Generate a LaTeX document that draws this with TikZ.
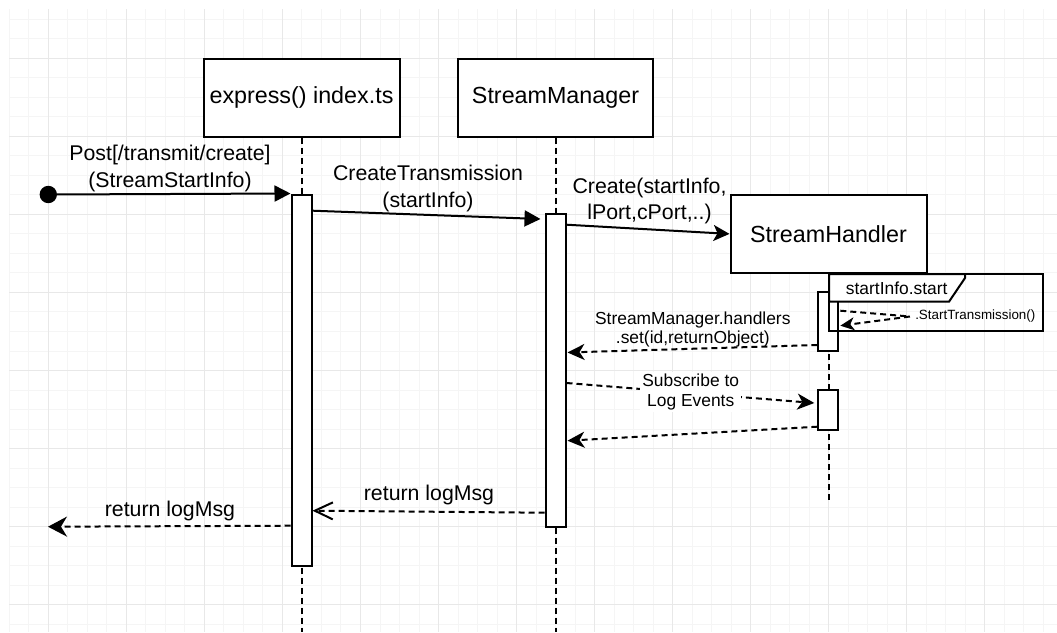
\documentclass[tikz,border=0pt]{standalone}
\usepackage{fontspec}
\setmainfont{Liberation Sans}
\usetikzlibrary{arrows.meta,calc}

\begin{document}
\begin{tikzpicture}[x=1pt,y=-1pt,
  gridminor/.style={draw=black!4, line width=0.9pt},
  gridmajor/.style={draw=black!9, line width=1.1pt},
  lifebox/.style={draw, line width=2pt, fill=white, minimum width=196pt,
    minimum height=78pt, inner sep=0pt, font=\fontsize{23.3}{28}\selectfont},
  activation/.style={draw, line width=2pt, fill=white, minimum width=20pt, inner sep=0pt},
  lifeline/.style={line width=2pt, dash pattern=on 6pt off 4pt},
  dashline/.style={line width=2pt, dash pattern=on 6pt off 4pt},
  callmsg/.style={line width=2pt, -{Triangle[length=16pt,width=16pt]}},
  createmsg/.style={line width=2pt, -{Stealth[length=16pt,width=16pt,inset=4pt]}},
  replymsg/.style={dashline, -{Stealth[length=17pt,width=16pt,inset=5pt]}},
  openreply/.style={dashline, -{Straight Barb[length=18pt,width=17pt,line width=2pt]}},
  bigreply/.style={dashline, -{Stealth[length=19pt,width=20pt,inset=6pt]}},
  selfcall/.style={dashline, -{Stealth[length=14pt,width=13pt,inset=4pt]}},
  biglabel/.style={align=center, inner sep=1pt, font=\fontsize{21.3}{26.7}\selectfont},
  midlabel/.style={align=center, inner sep=1pt, font=\fontsize{17.4}{19.8}\selectfont},
  smalllabel/.style={inner sep=1pt, font=\fontsize{13.4}{16}\selectfont}
]
\useasboundingbox (0,0) rectangle (1057,632);

% background grid
\begin{scope}
  \clip (9,9) rectangle (1057,632);
  \foreach \i in {0,...,53} \draw[gridminor] ({9.26+19.51*\i},9) -- ++(0,623);
  \foreach \i in {0,...,32} \draw[gridminor] (9,{19.28+19.51*\i}) -- ++(1048,0);
  \foreach \i in {0,...,13} \draw[gridmajor] ({48.3+78.05*\i},9) -- ++(0,623);
  \foreach \i in {0,...,7} \draw[gridmajor] (9,{58.3+78.05*\i}) -- ++(1048,0);
\end{scope}

% participants
\node[lifebox] (express) at (301.5,97.5) {express() index.ts};
\node[lifebox, minimum width=195pt] (manager) at (555.5,97.5) {StreamManager};
\node[lifebox] (handler) at (828.5,233.9) {StreamHandler};

% lifelines
\coordinate (expressEnd) at (301.5,632);
\coordinate (managerEnd) at (555.5,632);
\coordinate (handlerEnd) at (828.5,501.7);
\draw[lifeline] (express.south) -- (expressEnd);
\draw[lifeline] (manager.south) -- (managerEnd);
\draw[lifeline] (handler.south) -- (handlerEnd);

% activations
\node[activation, minimum height=371.5pt] (act1) at (301.5,380.25) {};
\node[activation, minimum height=312.7pt] (act2) at (555.5,370.35) {};
\node[activation, minimum height=59pt] (act3a) at (828.3,321.8) {};
\node[activation, minimum height=40pt] (act3b) at (828.3,410) {};

% combined fragment
\coordinate (frameNW) at (829,274);
\coordinate (frameSE) at (1043.3,331.3);
\draw[line width=2pt] (frameNW) rectangle (frameSE);
\draw[line width=2pt, fill=white] (frameNW) -- (965,274) -- (965,278) -- (949,301.7)
  -- (829,301.7) -- cycle;
\node[midlabel] (frameLabel) at (896.7,288.3) {startInfo.start};

% entry point
\node[circle, fill=black, minimum size=17.4pt, inner sep=0pt] (start) at (48.3,194.5) {};
\coordinate (exit) at (48,526.7);

% messages
\draw[callmsg] (start) -- (act1.north west);
\node[biglabel] (postLabel) at (170,168.7) {Post[/transmit/create]\\(StreamStartInfo)};

\draw[callmsg] ($(act1.north east)+(0,17.2)$) -- ($(act2.north west)+(-4,6)$);
\node[biglabel] (createTxLabel) at (428,188.5) {CreateTransmission\\(startInfo)};

\draw[createmsg] ($(act2.north east)+(0,11.7)$) -- (handler.west);
\node[biglabel] (createLabel) at (649.5,201) {Create(startInfo,\\lPort,cPort,..)};

\coordinate (selfTurn) at (910,316.5);
\draw[selfcall] ($(act3a.north east)+(1,19.4)$) -- (selfTurn) -- ($(act3a.north east)+(1,34.4)$);
\node[smalllabel] (startTxLabel) at (975.3,316) {.StartTransmission()};

\draw[replymsg] ($(act3a.south west)+(0,-7.3)$) -- ($(act2.north east)+(1,139.5)$);
\node[midlabel] (setLabel) at (692.8,329.5) {StreamManager.handlers\\.set(id,returnObject)};

\draw[replymsg] ($(act2.north east)+(0,170)$) -- ($(act3b.north west)+(-3,14)$);
\node[midlabel, fill=white, inner sep=2pt] (subscribeLabel) at (690.7,392) {Subscribe to\\Log Events};

\draw[replymsg] ($(act3b.south west)+(0,-4.3)$) -- ($(act2.north east)+(1,227.7)$);

\draw[openreply] ($(act2.south west)+(0,-15)$) -- ($(act1.north east)+(0,317.2)$);
\node[biglabel] (returnLabelA) at (429,495) {return logMsg};

\draw[bigreply] ($(act1.north west)+(0,332.2)$) -- (exit);
\node[biglabel] (returnLabelB) at (170,511) {return logMsg};
\end{tikzpicture}
\end{document}
